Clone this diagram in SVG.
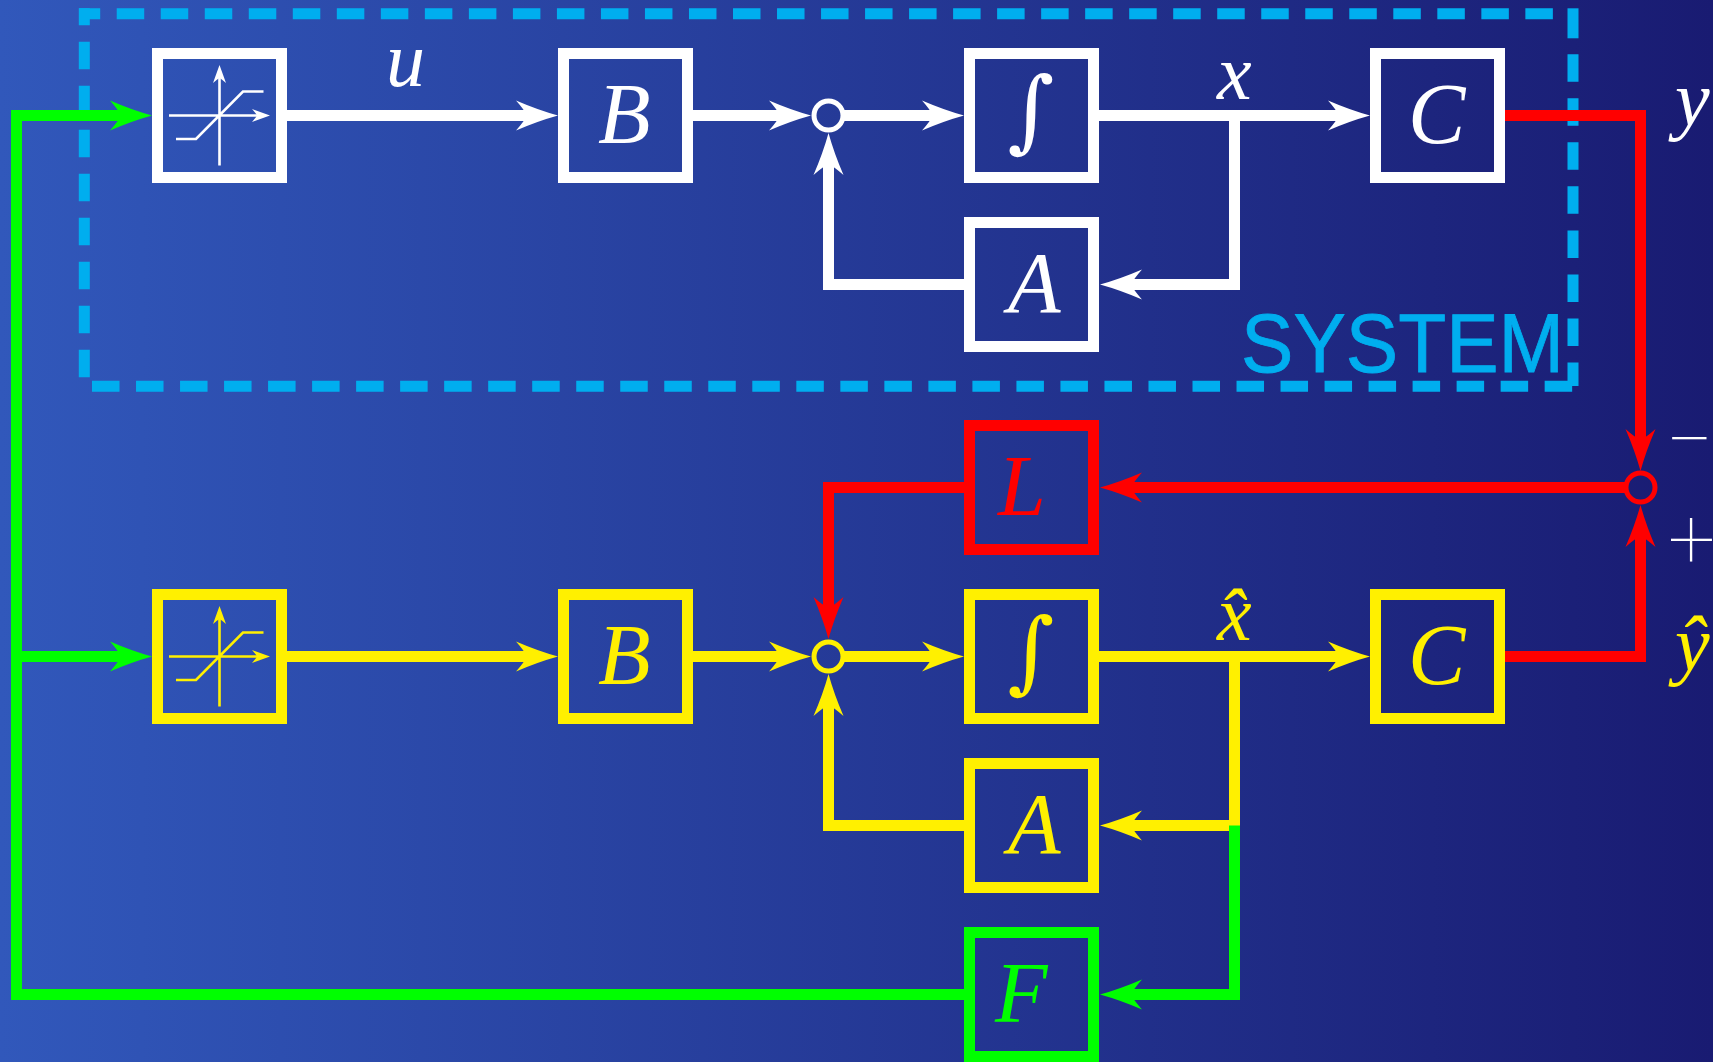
<svg xmlns="http://www.w3.org/2000/svg" width="1713" height="1062" viewBox="0 0 1713 1062">
<style>
.box{fill:none;stroke-width:11}
.w{stroke:#fff}.y{stroke:#fff000}.r{stroke:#f00}.g{stroke:#0f0}
.line{fill:none;stroke-width:11}
.thin{fill:none;stroke-width:2.6}
.dash{fill:none;stroke:#00aeef;stroke-width:11;stroke-dasharray:27.5 16.52}
.m{font-family:"Liberation Serif",serif;font-style:italic;font-size:86px}
.s{font-family:"Liberation Serif",serif;font-style:italic;font-size:78px}
.i{font-family:"DejaVu Serif",serif;font-size:90px;text-anchor:middle}
.tw{fill:#fff}.ty{fill:#fff000}.tr{fill:#f00}.tg{fill:#0f0}
.c{fill:none;stroke-width:5}
.sign{font-family:Roboto,sans-serif;font-weight:100;fill:#fff;text-anchor:middle}
</style>
<defs>
<linearGradient id="bg" x1="0" y1="0" x2="1" y2="0"><stop offset="0" stop-color="#3158bb"/><stop offset="1" stop-color="#191b72"/></linearGradient>
<path id="ah" d="M0,0 Q-20,-5.5 -42,-15 Q-34,-6 -31,0 Q-34,6 -42,15 Q-20,5.5 0,0 Z"/>
<path id="sh" d="M0,0 L-18,-6.5 Q-14,-2 -13,0 Q-14,2 -18,6.5 Z"/>
</defs>
<rect width="1713" height="1062" fill="url(#bg)"/>
<g id="system-frame">
<path class="dash" d="M79,13.8H1556" stroke-dashoffset="6.3"/>
<path class="dash" d="M84.3,8.3V378" stroke-dashoffset="10.6"/>
<path class="dash" d="M1573,54.3V386"/>
<path d="M1573,8.3V38.3" fill="none" stroke="#00aeef" stroke-width="11"/>
<path class="dash" d="M92,386.3H1573"/>
<text x="1241" y="372" font-family="Liberation Sans, sans-serif" font-size="83" fill="#00aeef" stroke="#00aeef" stroke-width="0.8" textLength="323" lengthAdjust="spacingAndGlyphs">SYSTEM</text>
</g>
<g id="connectors">
<g fill="#fff">
<path class="line w" d="M287,115.5H530M693,115.5H790M843,115.5H940M1099,115.5H1350M1234.5,115.5V284.5H1120M964,284.5H828.5V155"/>
<use href="#ah" x="558" y="115.5"/><use href="#ah" x="811" y="115.5"/><use href="#ah" x="964" y="115.5"/><use href="#ah" x="1370" y="115.5"/>
<use href="#ah" transform="translate(1100,284.5) rotate(180)"/><use href="#ah" transform="translate(828.5,133) rotate(-90)"/>
</g>
<g fill="#f00">
<path class="line r" d="M1505,115.5H1640.5V450M1625,487.5H1120M964,487.5H828.5V620M1505,656.5H1640.5V525"/>
<use href="#ah" transform="translate(1640.5,471) rotate(90)"/><use href="#ah" transform="translate(1640.5,505) rotate(-90)"/>
<use href="#ah" transform="translate(1100,487.5) rotate(180)"/><use href="#ah" transform="translate(828.5,639) rotate(90)"/>
</g>
<g fill="#fff000">
<path class="line y" d="M287,656.5H530M693,656.5H790M843,656.5H940M1099,656.5H1350M1234.5,656.5V825.5H1120M964,825.5H828.5V696"/>
<use href="#ah" x="558" y="656.5"/><use href="#ah" x="811" y="656.5"/><use href="#ah" x="964" y="656.5"/><use href="#ah" x="1370" y="656.5"/>
<use href="#ah" transform="translate(1100,825.5) rotate(180)"/><use href="#ah" transform="translate(828.5,674) rotate(-90)"/>
</g>
<g fill="#0f0">
<path class="line g" d="M1234.5,825.5V994.5H1120M964,994.5H16.5V115.5H130M16.5,656.5H130"/>
<use href="#ah" x="152" y="115.5"/><use href="#ah" x="152" y="656.5"/>
<use href="#ah" transform="translate(1100,994.5) rotate(180)"/>
</g>
</g>
<g id="sum-1"><circle class="c w" cx="828.5" cy="115.5" r="14.5"/></g>
<g id="sum-2"><circle class="c y" cx="828.5" cy="656.5" r="14.5"/></g>
<g id="sum-3"><circle class="c r" cx="1640.5" cy="487.5" r="14.5"/></g>
<g id="sat-1"><rect class="box w" x="157.5" y="53.5" width="124" height="124"/>
<path class="thin w" d="M169,115.5H258M219.5,165.5V76M176,139H196L243,91.5H263.5"/>
<g fill="#fff"><use href="#sh" x="270" y="115.5"/><use href="#sh" transform="translate(219.5,65) rotate(-90)"/></g></g>
<g id="B-1"><rect class="box w" x="563.5" y="53.5" width="124" height="124"/><text class="m tw" x="598" y="142.5">B</text></g>
<g id="int-1"><rect class="box w" x="969.5" y="53.5" width="124" height="124"/><text class="i tw" x="1031" y="141">∫</text></g>
<g id="C-1"><rect class="box w" x="1375.5" y="53.5" width="124" height="124"/><text class="m tw" x="1408" y="142.5">C</text></g>
<g id="A-1"><rect class="box w" x="969.5" y="222.5" width="124" height="124"/><text class="m tw" x="1008" y="311.5">A</text></g>
<g id="L"><rect class="box r" x="969.5" y="425.5" width="124" height="124"/><text class="m tr" x="998" y="514.5">L</text></g>
<g id="sat-2"><rect class="box y" x="157.5" y="594.5" width="124" height="124"/>
<path class="thin y" d="M169,656.5H258M219.5,706.5V617M176,680H196L243,632.5H263.5"/>
<g fill="#fff000"><use href="#sh" x="270" y="656.5"/><use href="#sh" transform="translate(219.5,606) rotate(-90)"/></g></g>
<g id="B-2"><rect class="box y" x="563.5" y="594.5" width="124" height="124"/><text class="m ty" x="598" y="683.5">B</text></g>
<g id="int-2"><rect class="box y" x="969.5" y="594.5" width="124" height="124"/><text class="i ty" x="1031" y="682">∫</text></g>
<g id="C-2"><rect class="box y" x="1375.5" y="594.5" width="124" height="124"/><text class="m ty" x="1408" y="683.5">C</text></g>
<g id="A-2"><rect class="box y" x="969.5" y="763.5" width="124" height="124"/><text class="m ty" x="1008" y="852.5">A</text></g>
<g id="F"><rect class="box g" x="969.5" y="932.5" width="124" height="124"/><text class="m tg" x="995" y="1021.5">F</text></g>
<g id="labels">
<text class="s tw" x="386" y="86">u</text>
<text class="s tw" x="1217" y="99">x</text>
<text class="s tw" x="1675" y="125">y</text>
<text class="s ty" x="1217" y="640">x̂</text>
<text class="s ty" x="1675" y="670">ŷ</text>
<text class="sign" x="1689.5" y="468.5" font-size="84">−</text>
<text class="sign" x="1691.5" y="567.5" font-size="84">+</text>
</g>
</svg>
